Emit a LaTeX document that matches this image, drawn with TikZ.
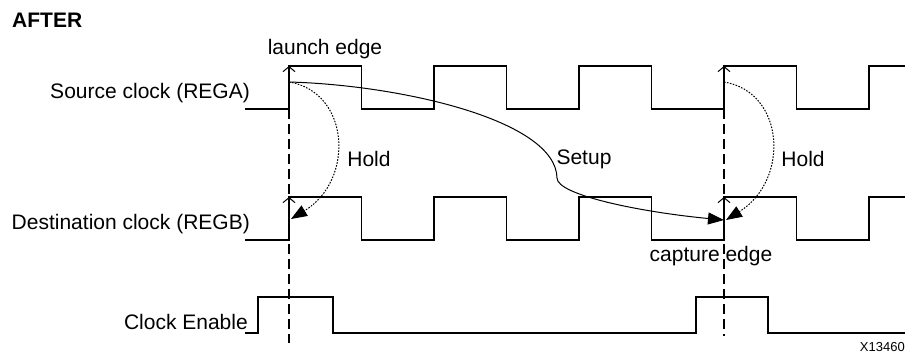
\documentclass[tikz,border=0pt]{standalone}
\usepackage{fontspec}
\setmainfont{Liberation Sans}
\usetikzlibrary{arrows.meta}
\newcommand{\clockwave}[2]{%
  \draw[wave] (245,#1) foreach \i in {0,...,3} {-- (289+145*\i,#1) -- (289+145*\i,#2) -- (361.5+145*\i,#2) -- (361.5+145*\i,#1)} -- (869,#1) -- (869,#2) -- (905,#2);}

\begin{document}
\begin{tikzpicture}[x=1pt,y=-1pt,
  wave/.style={line width=1.8pt},
  lbl/.style={font=\fontsize{21}{25}\selectfont,inner sep=0pt},
  edgetip/.style={-{Straight Barb[length=5pt,width=12pt]},line width=1pt},
  guide/.style={dash pattern=on 10pt off 5pt,line width=1.2pt},
  setuparc/.style={-{Triangle[length=16pt,width=12pt]},line width=1pt},
  holdarc/.style={setuparc,dash pattern=on 1.6pt off 1.4pt}]
 \useasboundingbox (0,0) rectangle (905,356);
 \node[lbl,font=\fontsize{21}{25}\selectfont\bfseries,anchor=west] (after) at (12,20) {AFTER};
 \clockwave{109}{66}
 \clockwave{240}{197}
 \draw[wave] (245,333) -- (258,333) -- (258,297) -- (333,297) -- (333,333) -- (696,333) -- (696,297) -- (768,297) -- (768,333) -- (905,333);
 \node[lbl,anchor=east] (srcA) at (250,93) {Source clock (REGA)};
 \node[lbl,anchor=east] (dstB) at (250,224) {Destination clock (REGB)};
 \node[lbl,anchor=east] (cen) at (248,322) {Clock Enable};
 \draw[guide] (289,109) -- (289,343);
 \draw[guide] (724,109) -- (724,336);
 \foreach \x in {289,724} {
   \draw[edgetip] (\x,90) -- (\x,66);
   \draw[edgetip] (\x,221) -- (\x,197);
 }
 \node[lbl] (launch) at (325,49) {launch edge};
 \node[lbl] (capture) at (711,256) {capture edge};
 \coordinate (fromA) at (289,82);
 \coordinate (fromA2) at (724,82);
 \coordinate (toB) at (291,219);
 \coordinate (toB2) at (724,220);
 \coordinate (toB3) at (726,220);
 \draw[setuparc] (fromA) .. controls (400,85) and (556,120) .. (557,178) .. controls (557,195) and (640,212) .. (toB2);
 \draw[holdarc] (fromA) .. controls (350,92) and (355,180) .. (toB);
 \draw[holdarc] (fromA2) .. controls (785,92) and (790,180) .. (toB3);
 \node[lbl] (holdL) at (369,159) {Hold};
 \node[lbl] (setup) at (584,159) {Setup};
 \node[lbl] (holdR) at (803,159) {Hold};
 \node[lbl,font=\fontsize{13}{15}\selectfont,anchor=east] (fig) at (905,347) {X13460};
\end{tikzpicture}
\end{document}
